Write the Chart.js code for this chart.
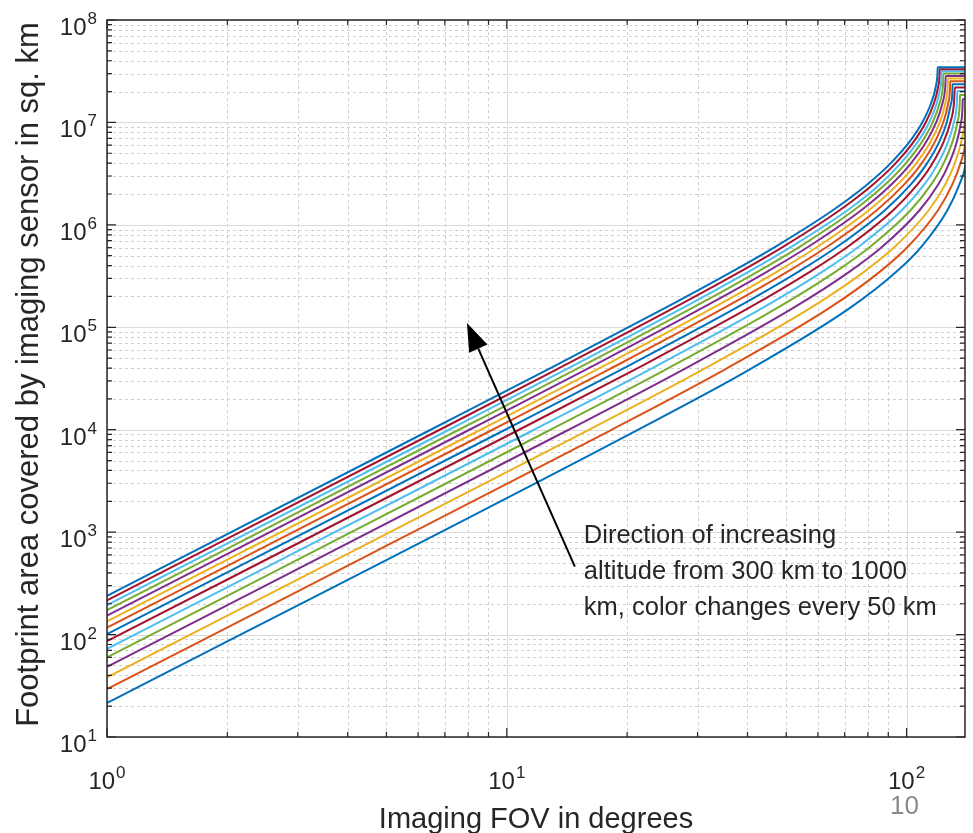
<!DOCTYPE html>
<html>
<head>
<meta charset="utf-8">
<script src="https://cdn.jsdelivr.net/npm/chart.js@4.4.0/dist/chart.umd.min.js"></script>
<style>
  html, body { margin: 0; padding: 0; background: #fff; }
</style>
</head>
<body>
<canvas id="myChart" width="973" height="833"></canvas>
<script>
// one line per satellite altitude (km)
const altitudes = [300, 350, 400, 450, 500, 550, 600, 650, 700, 750, 800, 850, 900, 950, 1000];

// footprint at 1 degree FOV (sq km), left edge of each line
const areaAt1deg = [21.5, 29.3, 38.3, 48.5, 59.8, 72.4, 86.1, 101.1, 117.2, 134.6, 153.1, 172.9, 193.8, 215.9, 239.3];

// footprint levels (sq km)
const areaLevels = [9712, 38842, 155365, 349520, 621230, 1397080, 2481950, 3874470, 6536400, 9879440, 15380200, 22048600, 29852000];

// FOV (deg) at which each altitude reaches the levels above
const fov300 = [20.98, 40.55, 72.38, 94.41, 109.26, 126.61, 135.59, 140.54];
const fov350 = [18.04, 35.15, 64.28, 85.81, 101.13, 119.95, 130.16, 136.02, 140.59];
const fov400 = [15.82, 30.99, 57.66, 78.41, 93.85, 113.71, 124.96, 131.64, 137.09, 139.56];
const fov450 = [14.08, 27.70, 52.20, 72.02, 87.34, 107.88, 119.99, 127.40, 133.67, 136.72, 138.10];
const fov500 = [12.68, 25.03, 47.62, 66.48, 81.52, 102.46, 115.27, 123.32, 130.33, 133.92, 135.83];
const fov550 = [11.54, 22.82, 43.74, 61.65, 76.32, 97.42, 110.78, 119.38, 127.09, 131.19, 133.59];
const fov600 = [10.58, 20.96, 40.42, 57.42, 71.66, 92.74, 106.51, 115.60, 123.92, 128.52, 131.39];
const fov650 = [9.77, 19.38, 37.56, 53.69, 67.46, 88.39, 102.48, 111.96, 120.86, 125.90, 129.22, 130.28];
const fov700 = [9.08, 18.03, 35.06, 50.39, 63.69, 84.36, 98.66, 108.48, 117.87, 123.34, 127.10, 128.47];
const fov750 = [8.48, 16.84, 32.86, 47.44, 60.27, 80.62, 95.04, 105.14, 114.99, 120.84, 125.01, 126.69];
const fov800 = [7.95, 15.81, 30.92, 44.81, 57.17, 77.15, 91.62, 101.94, 112.19, 118.40, 122.96, 124.94];
const fov850 = [7.48, 14.89, 29.19, 42.44, 54.36, 73.93, 88.38, 98.89, 109.48, 116.02, 120.95, 123.22];
const fov900 = [7.07, 14.07, 27.64, 40.30, 51.79, 71.29, 85.71, 95.96, 106.86, 113.71, 118.98, 121.52, 122.36];
const fov950 = [6.70, 13.34, 26.24, 38.35, 49.43, 68.13, 82.44, 93.18, 104.32, 111.45, 117.05, 119.85, 120.90];
const fov1000 = [6.36, 12.68, 24.97, 36.58, 47.27, 65.52, 79.71, 90.50, 101.87, 109.26, 115.15, 118.20, 119.46];

// where the view cone touches the horizon, and the flat top after it
const horizonFov = [145.5, 142.9, 140.42, 138.14, 136.01, 133.99, 132.11, 130.30, 128.58, 126.93, 125.36, 123.84, 122.38, 120.97, 119.62];
const horizonArea = [11.47e6, 13.28e6, 15.07e6, 16.83e6, 18.56e6, 20.27e6, 21.95e6, 23.61e6, 25.25e6, 26.86e6, 28.45e6, 30.02e6, 31.57e6, 33.09e6, 34.60e6];

// axis decades and labels
const xDecades = [0, 1, 2];
const yDecades = [1, 2, 3, 4, 5, 6, 7, 8];
const xTitle = 'Imaging FOV in degrees';
const yTitle = 'Footprint area covered by imaging sensor in sq. km';
const noteLines = ['Direction of increasing', 'altitude from 300 km to 1000', 'km, color changes every 50 km'];
const arrowTail = {x: 14.8, y: 460};
const arrowHead = {x: 7.95, y: 1.1e5};

const fovByAlt = [fov300, fov350, fov400, fov450, fov500, fov550, fov600, fov650, fov700, fov750, fov800, fov850, fov900, fov950, fov1000];
const colorOrder = ['#0072BD', '#D95319', '#EDB120', '#7E2F8E', '#77AC30', '#4DBEEE', '#A2142F'];

const FONT = '"Liberation Sans", Arial, Helvetica, sans-serif';
const TEXT = '#262626';

const datasets = altitudes.map((h, i) => {
  const pts = [{x: 1, y: areaAt1deg[i]}];
  fovByAlt[i].forEach((f, j) => pts.push({x: f, y: areaLevels[j]}));
  pts.push({x: horizonFov[i], y: horizonArea[i]});
  pts.push({x: 150, y: horizonArea[i]});
  return {
    label: h + ' km',
    data: pts,
    borderColor: colorOrder[i % colorOrder.length],
    borderWidth: 2,
    pointRadius: 0,
    fill: false,
    cubicInterpolationMode: 'monotone',
    order: -i
  };
});

function minorValues(decades, lo, hi) {
  const out = [];
  decades.forEach(e => {
    for (let m = 2; m <= 9; m++) {
      const v = m * Math.pow(10, e);
      if (v > lo && v < hi) out.push(v);
    }
  });
  return out;
}

function powLabel(ctx, exp, x, baseY, align) {
  ctx.font = '24px ' + FONT;
  const wb = ctx.measureText('10').width;
  ctx.font = '17px ' + FONT;
  const ws = ctx.measureText(String(exp)).width;
  const total = wb + 1 + ws;
  const x0 = align === 'right' ? x - total : x - total / 2;
  ctx.textAlign = 'left';
  ctx.textBaseline = 'alphabetic';
  ctx.font = '24px ' + FONT;
  ctx.fillText('10', x0, baseY);
  ctx.font = '17px ' + FONT;
  ctx.fillText(String(exp), x0 + wb + 1, baseY - 11);
}

const matlabFrame = {
  id: 'matlabFrame',
  beforeDatasetsDraw(chart) {
    const {ctx, chartArea: a, scales} = chart;
    const xs = scales.x, ys = scales.y;
    ctx.save();
    ctx.lineWidth = 1;
    // minor grid, dashed
    ctx.strokeStyle = '#cfcfcf';
    ctx.setLineDash([3, 3]);
    minorValues(xDecades, xs.min, xs.max).forEach(v => {
      const px = Math.round(xs.getPixelForValue(v)) + 0.5;
      ctx.beginPath(); ctx.moveTo(px, a.top); ctx.lineTo(px, a.bottom); ctx.stroke();
    });
    minorValues(yDecades.concat([0]), ys.min, ys.max).forEach(v => {
      const py = Math.round(ys.getPixelForValue(v)) + 0.5;
      ctx.beginPath(); ctx.moveTo(a.left, py); ctx.lineTo(a.right, py); ctx.stroke();
    });
    // major grid, solid
    ctx.setLineDash([]);
    ctx.strokeStyle = '#dadada';
    xDecades.forEach(e => {
      const px = Math.round(xs.getPixelForValue(Math.pow(10, e))) + 0.5;
      ctx.beginPath(); ctx.moveTo(px, a.top); ctx.lineTo(px, a.bottom); ctx.stroke();
    });
    yDecades.forEach(e => {
      const py = Math.round(ys.getPixelForValue(Math.pow(10, e))) + 0.5;
      ctx.beginPath(); ctx.moveTo(a.left, py); ctx.lineTo(a.right, py); ctx.stroke();
    });
    ctx.restore();
  },
  afterDatasetsDraw(chart) {
    const {ctx, chartArea: a, scales} = chart;
    const xs = scales.x, ys = scales.y;
    ctx.save();
    // box
    ctx.strokeStyle = TEXT;
    ctx.lineWidth = 1.5;
    ctx.strokeRect(a.left, a.top, a.right - a.left, a.bottom - a.top);
    // inward ticks on all four sides
    ctx.lineWidth = 1.2;
    const tickX = (v, len) => {
      const px = xs.getPixelForValue(v);
      ctx.beginPath();
      ctx.moveTo(px, a.bottom); ctx.lineTo(px, a.bottom - len);
      ctx.moveTo(px, a.top); ctx.lineTo(px, a.top + len);
      ctx.stroke();
    };
    const tickY = (v, len) => {
      const py = ys.getPixelForValue(v);
      ctx.beginPath();
      ctx.moveTo(a.left, py); ctx.lineTo(a.left + len, py);
      ctx.moveTo(a.right, py); ctx.lineTo(a.right - len, py);
      ctx.stroke();
    };
    minorValues(xDecades, xs.min, xs.max).forEach(v => tickX(v, 5));
    xDecades.forEach(e => tickX(Math.pow(10, e), 9));
    minorValues(yDecades.concat([0]), ys.min, ys.max).forEach(v => tickY(v, 5));
    yDecades.forEach(e => tickY(Math.pow(10, e), 9));

    // tick labels
    ctx.fillStyle = TEXT;
    yDecades.forEach(e => {
      const py = ys.getPixelForValue(Math.pow(10, e));
      powLabel(ctx, e, a.left - 10, py + 15, 'right');
    });
    xDecades.forEach(e => {
      const px = xs.getPixelForValue(Math.pow(10, e));
      powLabel(ctx, e, px, a.bottom + 52, 'center');
    });

    // axis titles
    ctx.font = '29px ' + FONT;
    ctx.textAlign = 'center';
    ctx.textBaseline = 'alphabetic';
    ctx.fillText(xTitle, (a.left + a.right) / 2, a.bottom + 91);
    ctx.save();
    ctx.translate(38, (a.top + a.bottom) / 2 - 4);
    ctx.rotate(-Math.PI / 2);
    ctx.font = '31px ' + FONT;
    ctx.fillText(yTitle, 0, 0);
    ctx.restore();

    // arrow
    const tx = xs.getPixelForValue(arrowTail.x), ty = ys.getPixelForValue(arrowTail.y);
    const hx = xs.getPixelForValue(arrowHead.x), hy = ys.getPixelForValue(arrowHead.y);
    const ang = Math.atan2(hy - ty, hx - tx);
    const len = 28, half = 10;
    const bx = hx - len * Math.cos(ang), by = hy - len * Math.sin(ang);
    ctx.strokeStyle = '#000';
    ctx.fillStyle = '#000';
    ctx.lineWidth = 2;
    ctx.beginPath(); ctx.moveTo(tx, ty); ctx.lineTo(bx, by); ctx.stroke();
    ctx.beginPath();
    ctx.moveTo(hx, hy);
    ctx.lineTo(bx + half * Math.sin(ang), by - half * Math.cos(ang));
    ctx.lineTo(bx - half * Math.sin(ang), by + half * Math.cos(ang));
    ctx.closePath();
    ctx.fill();

    // note text
    ctx.fillStyle = TEXT;
    ctx.font = '25.5px ' + FONT;
    ctx.textAlign = 'left';
    ctx.textBaseline = 'middle';
    noteLines.forEach((s, k) => ctx.fillText(s, tx + 9, ty - 31 + k * 36));

    // stray page number
    ctx.fillStyle = '#8a8a8a';
    ctx.font = '26px ' + FONT;
    ctx.textBaseline = 'alphabetic';
    ctx.fillText('10', 890, 814);
    ctx.restore();
  }
};

const chart = new Chart(document.getElementById('myChart'), {
  type: 'line',
  data: {datasets: datasets},
  options: {
    responsive: false,
    animation: false,
    devicePixelRatio: 1,
    layout: {padding: {left: 107, right: 8, top: 20, bottom: 96}},
    elements: {line: {capBezierPoints: false}},
    plugins: {legend: {display: false}, tooltip: {enabled: false}},
    scales: {
      x: {type: 'logarithmic', min: 1, max: 140, display: false},
      y: {type: 'logarithmic', min: 10, max: 1e8, display: false}
    }
  },
  plugins: [matlabFrame]
});
</script>
</body>
</html>
